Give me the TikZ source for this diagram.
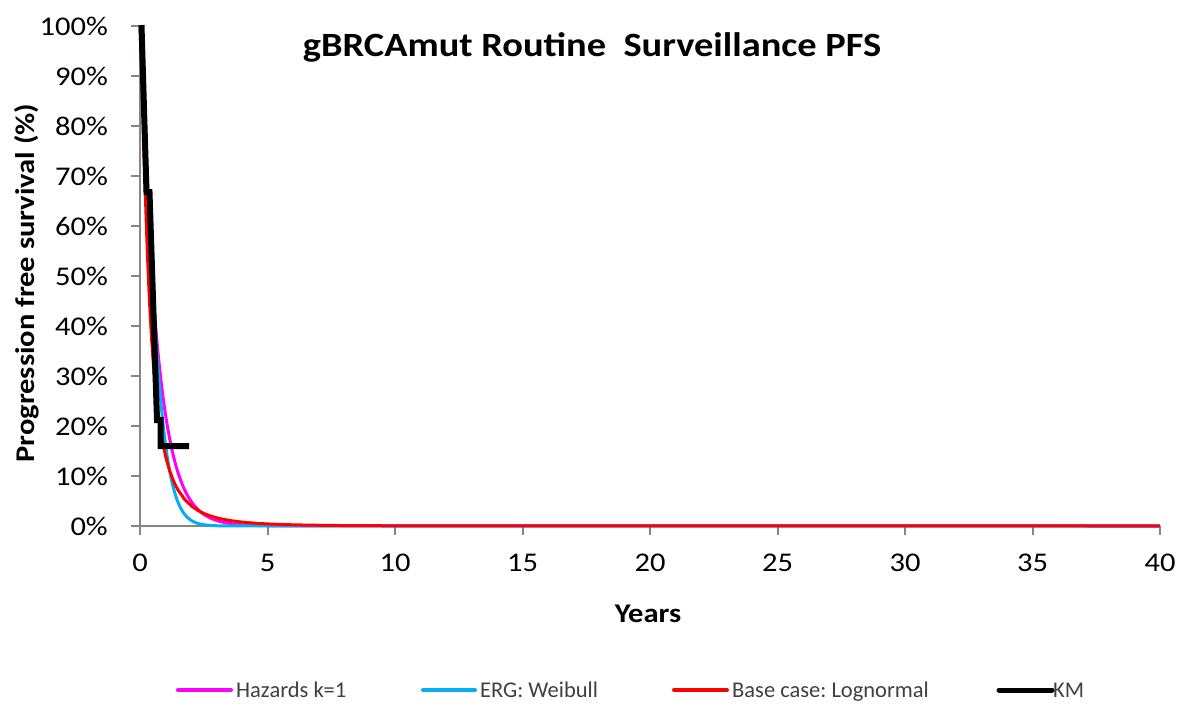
\documentclass[tikz,border=0pt]{standalone}
\usepackage{fontspec}
\setmainfont{Carlito}[FakeStretch=1.13]
\newfontfamily\legfont{Carlito}
\definecolor{axisgray}{HTML}{868686}
\definecolor{hazpink}{HTML}{FF00FF}
\definecolor{ergcyan}{HTML}{00B0F0}
\definecolor{basered}{HTML}{FF0000}
\definecolor{legtext}{HTML}{404040}
\begin{document}
\frenchspacing
\begin{tikzpicture}[x=1pt,y=-1pt,
  declare function={
    zz(\t)=(ln(\t)+1.12)/1.04;
    uu(\t)=max(-9,min(9,1.5976*zz(\t)+0.070566*zz(\t)*zz(\t)*zz(\t)));
    lns(\t)=1/(1+exp(uu(\t)));
    wbs(\t)=exp(-min(9,(\t/0.633)^1.3));
    exs(\t)=exp(-min(9,1.5*\t));
  },
  axisline/.style={draw=axisgray, line width=2pt},
  ticklab/.style={font=\fontsize{27}{29}\selectfont, text=black, inner sep=0pt},
  fitline/.style={line width=3pt, line join=round},
  kmline/.style={line width=6pt, line join=miter, line cap=butt, draw=black},
  legline/.style={line width=4pt, line cap=round},
  legtxt/.style={font=\legfont\fontsize{22.5}{24}\selectfont, text=legtext, inner sep=0pt, anchor=base west},
]
\useasboundingbox (0,0) rectangle (1184,704);

% axes
\coordinate (o) at (140,526);
\coordinate (ytop) at (140,26);
\coordinate (xend) at (1160,526);
\draw[axisline] (ytop) -- (o) -- (xend);
\foreach \p in {0,...,10}{
  \pgfmathtruncatemacro{\v}{10*\p}
  \draw[axisline] (131,526-50*\p) -- (140,526-50*\p);
  \node[ticklab, anchor=east] (yl\p) at (108,526-50*\p) {\v\%};
}
\foreach \k in {0,...,8}{
  \pgfmathtruncatemacro{\v}{5*\k}
  \draw[axisline] (140+127.5*\k,526) -- (140+127.5*\k,535);
  \node[ticklab, anchor=center] (xl\k) at (140+127.5*\k,563) {\v};
}

% titles
\node[font=\bfseries\fontsize{34}{36}\selectfont, inner sep=0pt, anchor=base] (title) at (592,56) {gBRCAmut Routine\ \ Surveillance PFS};
\node[font=\bfseries\fontsize{27}{29}\selectfont, inner sep=0pt] (xtitle) at (648,614) {Years};
\node[font=\bfseries\fontsize{27}{29}\selectfont, inner sep=0pt, rotate=90] (ytitle) at (27,283) {Progression free survival (\%)};

% fitted curves
\draw[fitline, hazpink] plot[domain=0.001:1.5, samples=120] ({140+25.5*\x},{526-500*exs(\x)})
  -- plot[domain=1.5:8, samples=80] ({140+25.5*\x},{526-500*exs(\x)}) -- (xend);
\draw[fitline, ergcyan] plot[domain=0.001:1.5, samples=120] ({140+25.5*\x},{526-500*wbs(\x)})
  -- plot[domain=1.5:6, samples=80] ({140+25.5*\x},{526-500*wbs(\x)}) -- (xend);
\draw[fitline, basered] plot[domain=0.002:1.5, samples=150] ({140+25.5*\x},{526-500*lns(\x)})
  -- plot[domain=1.5:40, samples=150] ({140+25.5*\x},{526-500*lns(\x)});

% KM
\coordinate (k0) at (141.5,25);
\coordinate (k1) at (146.5,192);
\coordinate (k2) at (149.5,192);
\coordinate (k3) at (157,420);
\coordinate (k4) at (160.5,420);
\coordinate (k5) at (160.5,446);
\coordinate (k6) at (189,446);
\draw[kmline] (k0) -- (k1) -- (k2) -- (k3) -- (k4) -- (k5) -- (k6);

% legend
\coordinate (l1a) at (178,690); \coordinate (l1b) at (231,690);
\coordinate (l2a) at (423,690); \coordinate (l2b) at (475,690);
\coordinate (l3a) at (674,690); \coordinate (l3b) at (727,690);
\coordinate (l4a) at (999,690); \coordinate (l4b) at (1052,690);
\draw[legline, hazpink] (l1a) -- (l1b);
\draw[legline, ergcyan] (l2a) -- (l2b);
\draw[legline, basered] (l3a) -- (l3b);
\draw[legline, black, line width=5pt] (l4a) -- (l4b);
\node[legtxt] (t1) at (236,697) {Hazards k=1};
\node[legtxt] (t2) at (480,697) {ERG: Weibull};
\node[legtxt] (t3) at (732,697) {Base case: Lognormal};
\node[legtxt] (t4) at (1053,697) {KM};
\end{tikzpicture}
\end{document}
